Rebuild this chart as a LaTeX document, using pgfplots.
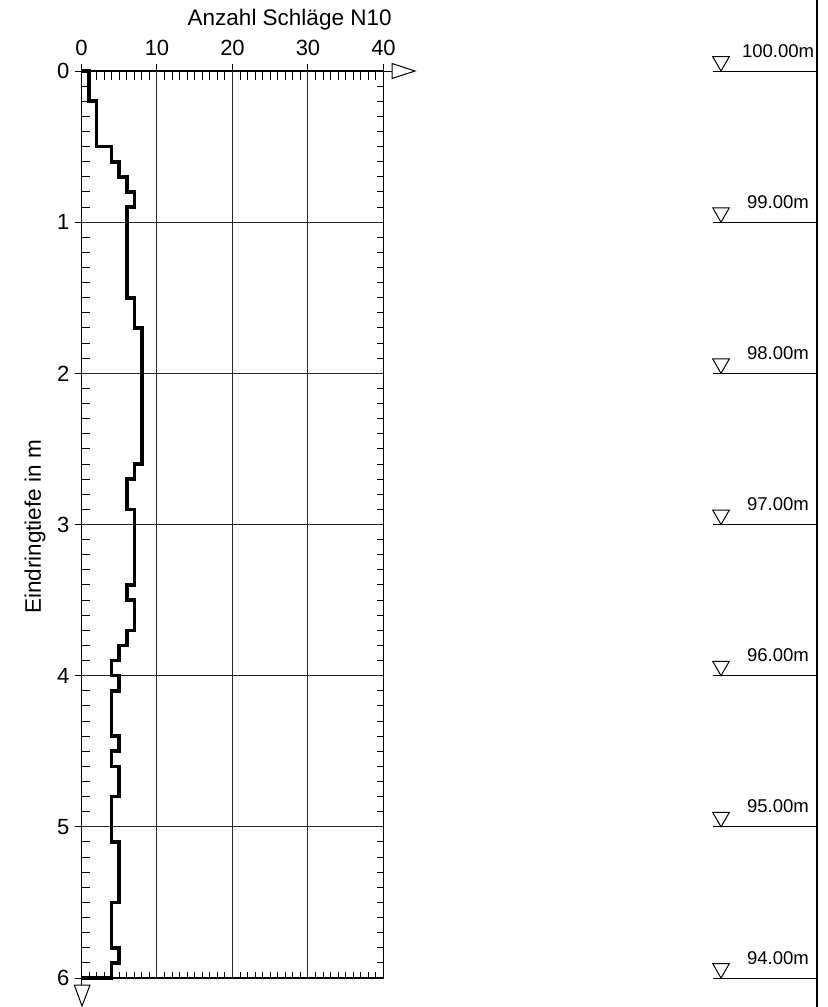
\documentclass[border=0pt]{standalone}
\usepackage{fontspec}
\setmainfont{Liberation Sans}
\usepackage{pgfplots}
\pgfplotsset{compat=1.18}
\begin{document}
\begin{tikzpicture}
\useasboundingbox (0pt,0pt) rectangle (414pt,-503.5pt);
\pgfplotsset{
  common/.style={
    at={(40.75pt,-35.5pt)}, anchor=north west,
    scale only axis, width=151pt, height=453.5pt,
    xmin=0, xmax=40, ymin=0, ymax=6, y dir=reverse,
    xtick={0,10,20,30,40}, ytick={0,1,2,3,4,5,6},
    axis line style={black, line width=0.6pt},
    tick style={black, line width=0.5pt},
  }
}
% minor inside ticks on right and bottom
\begin{axis}[common, xtick pos=left, ytick pos=right, tick align=inside,
  minor x tick num=9, minor y tick num=9, major tick length=0pt, minor tick length=3pt,
  xticklabels={}, yticklabels={}]
\end{axis}
% major outside ticks on left and top
\begin{axis}[common, xtick pos=right, ytick pos=left, tick align=outside,
  major tick length=3.5pt, xticklabels={}, yticklabels={}]
\end{axis}
% main axis
\begin{axis}[common, xtick pos=right, ytick pos=left, tick align=inside,
  minor x tick num=9, minor y tick num=9, major tick length=0pt, minor tick length=4.25pt,
  grid=major, major grid style={black!85, line width=0.5pt}, clip=false,
  xticklabel pos=right,
  xticklabel style={anchor=base, yshift=8pt, font=\fontsize{11}{12}\selectfont},
  yticklabel style={xshift=-2.5pt, font=\fontsize{11}{12}\selectfont},
  /pgf/number format/assume math mode=true]
\addplot[black, line width=1.8pt, line join=miter, mark=none] coordinates {
(0,0) (1,0) (1,0.2) (2,0.2) (2,0.5) (4,0.5) (4,0.6) (5,0.6) (5,0.7) (6,0.7)
(6,0.8) (7,0.8) (7,0.9) (6,0.9) (6,1.5) (7,1.5) (7,1.7) (8,1.7) (8,2.6) (7,2.6)
(7,2.7) (6,2.7) (6,2.9) (7,2.9) (7,3.4) (6,3.4) (6,3.5) (7,3.5) (7,3.7) (6,3.7)
(6,3.8) (5,3.8) (5,3.9) (4,3.9) (4,4.0) (5,4.0) (5,4.1) (4,4.1) (4,4.4) (5,4.4)
(5,4.5) (4,4.5) (4,4.6) (5,4.6) (5,4.8) (4,4.8) (4,5.1) (5,5.1) (5,5.5) (4,5.5)
(4,5.8) (5,5.8) (5,5.9) (4,5.9) (4,6.0) (0,6.0)};
\end{axis}
% elevation column
\begin{axis}[at={(356.5pt,-35.5pt)}, anchor=north west, scale only axis,
  width=52pt, height=453.5pt, xmin=0, xmax=1, ymin=0, ymax=6, y dir=reverse,
  hide axis, clip=false]
\addplot[xcomb, black, line width=0.5pt, mark=none] table {
x y
1 0
1 1
1 2
1 3
1 4
1 5
1 6
};
\addplot[only marks, mark=triangle*, mark size=4.8pt,
  mark options={fill=white, draw=black, line width=0.5pt, yshift=4.8pt, rotate=180}] table {
x y
0.077 0
0.077 1
0.077 2
0.077 3
0.077 4
0.077 5
0.077 6
};
\node[anchor=base, yshift=7pt, font=\fontsize{9.25}{11}\selectfont] at (axis cs:0.625,0) {100.00m};
\node[anchor=base, yshift=7pt, font=\fontsize{9.25}{11}\selectfont] at (axis cs:0.625,1) {99.00m};
\node[anchor=base, yshift=7pt, font=\fontsize{9.25}{11}\selectfont] at (axis cs:0.625,2) {98.00m};
\node[anchor=base, yshift=7pt, font=\fontsize{9.25}{11}\selectfont] at (axis cs:0.625,3) {97.00m};
\node[anchor=base, yshift=7pt, font=\fontsize{9.25}{11}\selectfont] at (axis cs:0.625,4) {96.00m};
\node[anchor=base, yshift=7pt, font=\fontsize{9.25}{11}\selectfont] at (axis cs:0.625,5) {95.00m};
\node[anchor=base, yshift=7pt, font=\fontsize{9.25}{11}\selectfont] at (axis cs:0.625,6) {94.00m};
\end{axis}
% right border line
\draw[line width=0.75pt] (408.5pt,0pt) -- (408.5pt,-503.5pt);
% top axis arrow
\draw[line width=0.5pt] (191.75pt,-35.5pt) -- (196pt,-35.5pt);
\draw[line width=0.5pt, fill=white] (196pt,-31.75pt) -- (207.5pt,-35.5pt) -- (196pt,-39.25pt) -- cycle;
% bottom depth arrow
\draw[line width=0.5pt] (40.75pt,-489pt) -- (40.75pt,-492.5pt);
\draw[line width=0.5pt, fill=white] (37.15pt,-492.5pt) -- (45pt,-492.5pt) -- (41pt,-503pt) -- cycle;
% titles
\node[anchor=base east, inner sep=0pt, font=\fontsize{11.25}{13}\selectfont] at (196pt,-12.5pt) {Anzahl Schläge N10};
\node[rotate=90, inner sep=0pt, font=\fontsize{11.25}{13}\selectfont] at (17.5pt,-263.5pt) {Eindringtiefe in m};
\end{tikzpicture}
\end{document}
